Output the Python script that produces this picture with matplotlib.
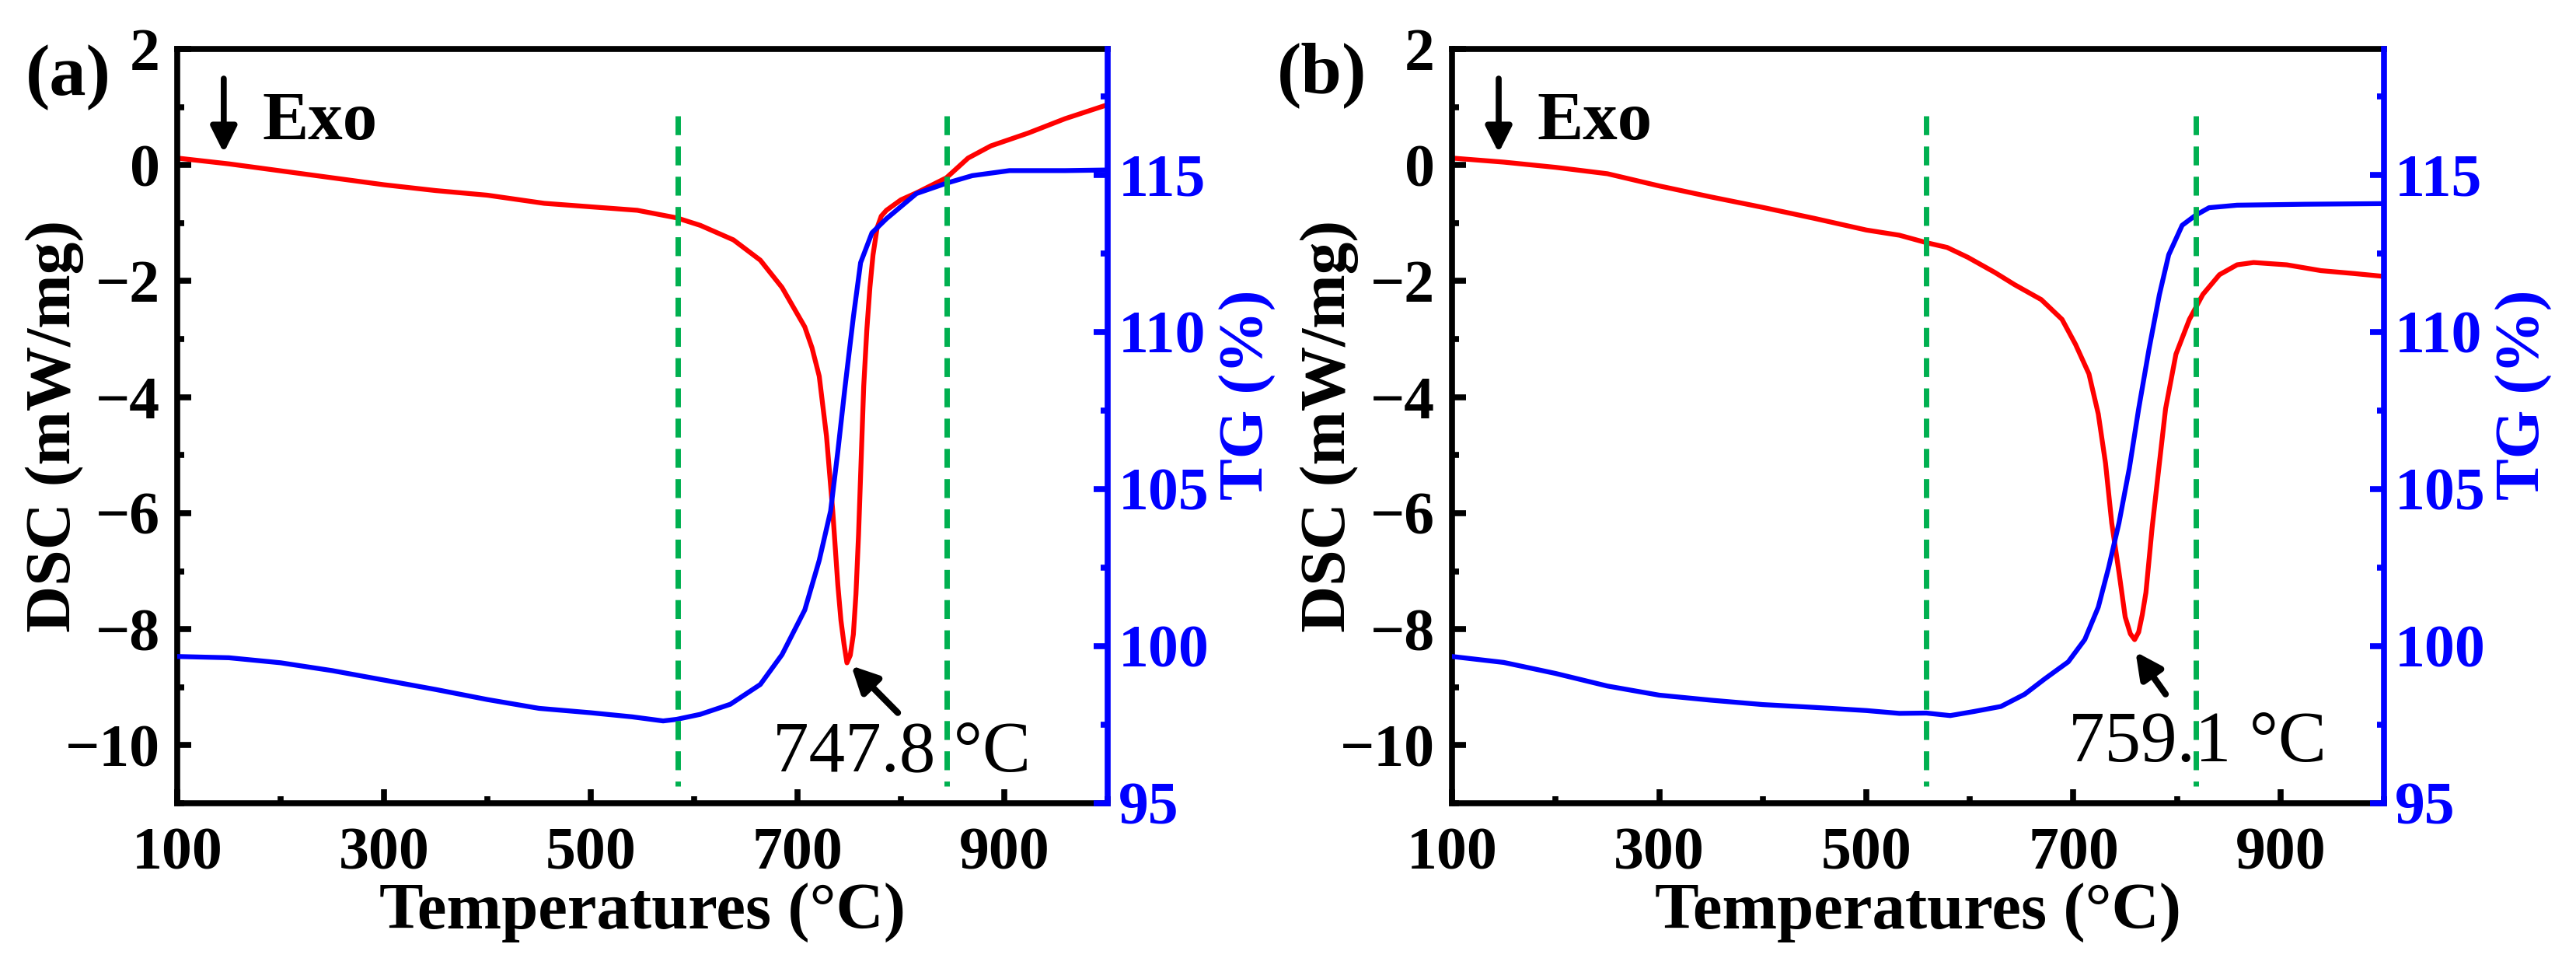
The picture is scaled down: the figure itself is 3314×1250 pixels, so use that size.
import matplotlib
matplotlib.use("Agg")
import matplotlib.pyplot as plt
from matplotlib.ticker import MultipleLocator

plt.rcParams['font.family'] = ['Liberation Serif', 'DejaVu Serif']
plt.rcParams['font.weight'] = 'bold'

# ---- data ----
# panel (a) DSC
t_dsc_a = [100, 150, 200, 250, 300, 350, 400, 455, 500, 545, 583, 606, 638, 664, 685,
           707, 714, 721, 728, 734, 739, 742, 745, 747.8, 751, 754, 756.5, 759, 761.5,
           764, 767, 770, 773, 777, 781, 786, 800, 815, 844, 865, 887, 923, 959, 1000]
dsc_a = [0.12, 0.02, -0.10, -0.22, -0.34, -0.44, -0.52, -0.66, -0.72, -0.78, -0.91, -1.04,
         -1.29, -1.64, -2.11, -2.79, -3.15, -3.64, -4.67, -5.95, -7.24, -7.85, -8.26, -8.58,
         -8.45, -8.09, -7.40, -6.38, -5.10, -3.82, -2.85, -2.11, -1.55, -1.08, -0.88, -0.78,
         -0.60, -0.48, -0.22, 0.12, 0.33, 0.55, 0.80, 1.04]
# panel (a) TG
t_tg_a = [100, 150, 200, 250, 300, 350, 400, 450, 500, 540, 570, 583, 606, 635, 664, 685,
          707, 721, 732, 739, 746, 754, 761, 772, 786, 815, 844, 869, 905, 959, 1000]
tg_a = [99.67, 99.63, 99.47, 99.22, 98.92, 98.62, 98.30, 98.02, 97.88, 97.75, 97.62, 97.67,
        97.83, 98.15, 98.78, 99.73, 101.15, 102.73, 104.30, 106.20, 108.26, 110.47, 112.20,
        113.15, 113.60, 114.40, 114.73, 114.97, 115.13, 115.13, 115.15]

# panel (b) DSC
t_dsc_b = [100, 150, 200, 250, 300, 350, 400, 450, 500, 532, 558.5, 578, 598, 624, 643, 669,
           689, 702, 715, 724, 731, 737, 744, 750, 755, 759.1, 763, 766.5, 770, 776, 783,
           789, 799, 812, 825, 841, 858, 874, 906, 939, 971, 1000]
dsc_b = [0.12, 0.05, -0.04, -0.15, -0.36, -0.55, -0.73, -0.92, -1.12, -1.21, -1.34, -1.42,
         -1.59, -1.85, -2.06, -2.32, -2.66, -3.09, -3.60, -4.29, -5.14, -6.17, -7.02, -7.79,
         -8.08, -8.18, -8.05, -7.75, -7.37, -6.25, -5.14, -4.20, -3.26, -2.66, -2.23, -1.89,
         -1.72, -1.68, -1.72, -1.82, -1.87, -1.92]
# panel (b) TG
t_tg_b = [100, 150, 200, 250, 300, 350, 400, 450, 500, 532, 558, 581, 604, 630, 653, 672,
          695, 711, 724, 734, 744, 754, 763, 773, 783, 792, 805, 818, 831, 858, 923, 1000]
tg_b = [99.67, 99.48, 99.13, 98.73, 98.44, 98.28, 98.14, 98.05, 97.95, 97.86, 97.87, 97.79,
        97.92, 98.08, 98.47, 98.95, 99.50, 100.21, 101.24, 102.50, 103.92, 105.66, 107.55,
        109.45, 111.18, 112.45, 113.39, 113.71, 113.95, 114.03, 114.06, 114.08]

dashed_a = [584, 844]
dashed_b = [558, 818]
peak_a = 747.8
peak_b = 759.1
panel_tags = ['(a)', '(b)']

red = '#FF0000'
blue = '#0000FF'
green = '#00B050'
lw_sp = 5.5

fig = plt.figure(figsize=(33.14, 12.5), dpi=100)
ax_a = fig.add_axes([0.0688, 0.1736, 0.3612, 0.776])
ax_b = fig.add_axes([0.5637, 0.1736, 0.3618, 0.776])


def draw_panel(ax, t_dsc, dsc, t_tg, tg, dashes, peak, tip, tail, txt_xy):
    ax.plot(t_dsc, dsc, color=red, lw=4.5, solid_joinstyle='round')
    ax.set_xlim(100, 1000)
    ax.set_ylim(-11, 2)
    ax.xaxis.set_minor_locator(MultipleLocator(100))
    ax.set_xticks([100, 300, 500, 700, 900])
    ax.yaxis.set_major_locator(MultipleLocator(2))
    ax.yaxis.set_minor_locator(MultipleLocator(1))
    ax.tick_params(which='both', direction='in', width=lw_sp, top=False, right=False)
    ax.tick_params(which='major', length=13)
    ax.tick_params(which='minor', length=6.5)
    ax.tick_params(axis='x', which='major', labelsize=56, pad=22)
    ax.tick_params(axis='y', which='major', labelsize=56, pad=16)
    for s in ['left', 'bottom', 'top']:
        ax.spines[s].set_linewidth(lw_sp)
    ax.spines['right'].set_visible(False)
    ax.set_xlabel('Temperatures (°C)', fontsize=61, fontweight='bold')
    ax.xaxis.set_label_coords(0.5, -0.105)
    ax.set_ylabel('DSC (mW/mg)', fontsize=60, fontweight='bold')
    ax.yaxis.set_label_coords(-0.1, 0.5)

    ax2 = ax.twinx()
    ax2.plot(t_tg, tg, color=blue, lw=4.5, solid_joinstyle='round')
    ax2.set_ylim(95, 119)
    ax2.yaxis.set_minor_locator(MultipleLocator(2.5))
    ax2.set_yticks([95, 100, 105, 110, 115])
    ax2.tick_params(which='both', direction='in', width=lw_sp, color=blue, labelcolor=blue)
    ax2.tick_params(which='major', length=13, labelsize=56, pad=10)
    ax2.tick_params(which='minor', length=6.5)
    for s in ['left', 'bottom', 'top']:
        ax2.spines[s].set_visible(False)
    ax2.spines['right'].set_color(blue)
    ax2.spines['right'].set_linewidth(lw_sp)
    ax2.set_ylabel('TG (%)', fontsize=58, fontweight='bold', color=blue)
    ax2.yaxis.set_label_coords(1.12, 0.541)

    # dashed guide lines (DSC coordinates), drawn on top
    for xd in dashes:
        ax2.plot([xd, xd], [0.85, -10.7], transform=ax.transData, color=green,
                 lw=5, dashes=(3.5, 2.1))

    # Exo marker
    ax2.annotate('', xy=(145, 0.21), xytext=(145, 1.49), xycoords=ax.transData,
                 textcoords=ax.transData,
                 arrowprops=dict(arrowstyle='-|>', color='black', lw=5.5,
                                 mutation_scale=50, shrinkA=0, shrinkB=0))
    ax2.text(182, 0.45, 'Exo', transform=ax.transData, fontsize=64,
             fontweight='bold', ha='left', va='baseline')

    # peak annotation
    ax2.annotate('', xy=tip, xytext=tail, xycoords=ax.transData,
                 textcoords=ax.transData,
                 arrowprops=dict(arrowstyle='-|>', color='black', lw=6,
                                 mutation_scale=50, shrinkA=0, shrinkB=0))
    ax2.text(txt_xy[0], txt_xy[1], f'{peak} °C', transform=ax.transData,
             fontsize=67, fontweight='normal', ha='center', va='baseline')
    return ax2


draw_panel(ax_a, t_dsc_a, dsc_a, t_tg_a, tg_a, dashed_a, peak_a,
           (752, -8.63), (797, -9.44), (801, -10.44))
draw_panel(ax_b, t_dsc_b, dsc_b, t_tg_b, tg_b, dashed_b, peak_b,
           (760, -8.39), (789, -9.12), (820, -10.27))

fig.text(0.0266, 0.92, panel_tags[0], fontsize=68, fontweight='bold', ha='center', va='center')
fig.text(0.5133, 0.9224, panel_tags[1], fontsize=68, fontweight='bold', ha='center', va='center')

fig.savefig('out.png', dpi=100)
